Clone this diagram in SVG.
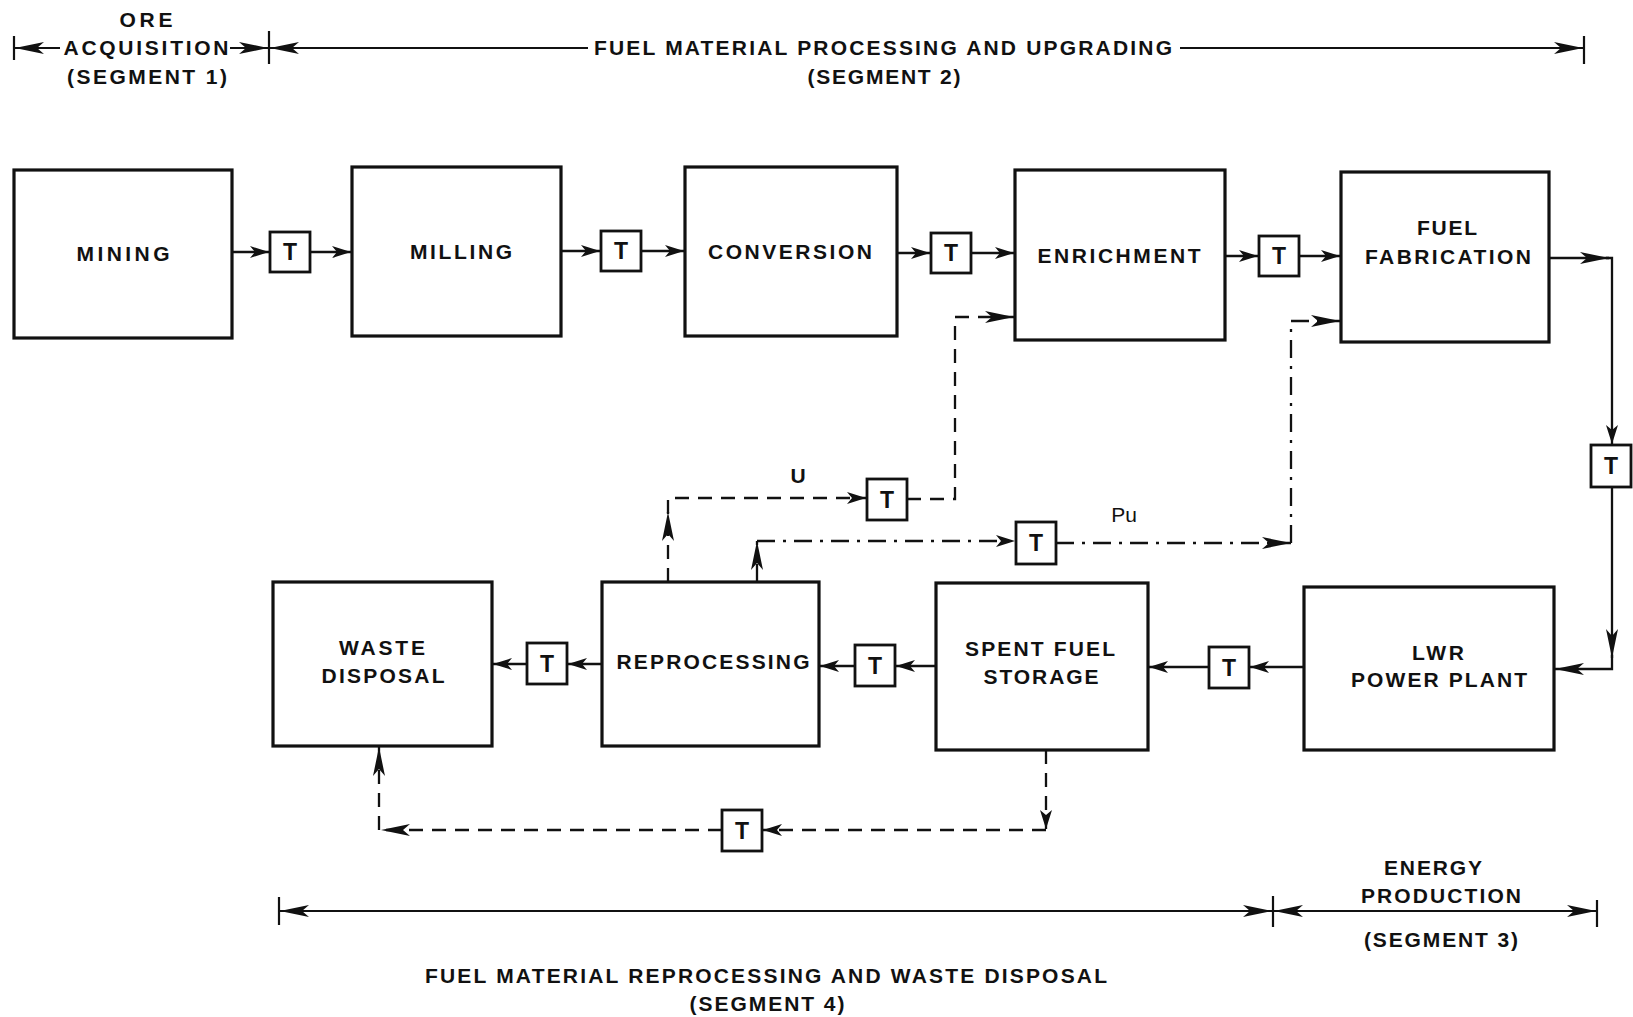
<svg xmlns="http://www.w3.org/2000/svg" width="1633" height="1017" viewBox="0 0 1633 1017">
<defs>
<style>
.box{fill:#fff;stroke:#111;stroke-width:3.2}
.tb{fill:#fff;stroke:#111;stroke-width:2.8}
.lbl{font-family:"Liberation Sans",Arial,sans-serif;font-weight:bold;font-size:21px;fill:#111;text-anchor:middle}
.tt{font-family:"Liberation Sans",Arial,sans-serif;font-weight:bold;font-size:23px;fill:#111;text-anchor:middle}
.ln{fill:none;stroke:#111;stroke-width:2.3}
.dash{fill:none;stroke:#111;stroke-width:2.3;stroke-dasharray:14 9}
.dashdot{fill:none;stroke:#111;stroke-width:2.3;stroke-dasharray:18 8 3 8}
.brk{fill:none;stroke:#111;stroke-width:2.2}
</style>
<marker id="ah" markerUnits="userSpaceOnUse" markerWidth="20" markerHeight="12" viewBox="0 0 20 12" refX="19" refY="6" orient="auto-start-reverse">
<path d="M0,0 L19,6 L0,12 L5,6 z" fill="#111"/>
</marker>
<marker id="big" markerUnits="userSpaceOnUse" markerWidth="30" markerHeight="12" viewBox="0 0 30 12" refX="29" refY="6" orient="auto-start-reverse">
<path d="M0,0 L29,6 L0,12 L7,6 z" fill="#111"/>
</marker>
</defs>
<rect width="1633" height="1017" fill="#fff"/>

<g id="header">
<text class="lbl" x="146" y="27" textLength="53" lengthAdjust="spacing">ORE</text>
<text class="lbl" x="146" y="55" textLength="165" lengthAdjust="spacing">ACQUISITION</text>
<text class="lbl" x="147" y="84" textLength="160" lengthAdjust="spacing">(SEGMENT 1)</text>
<text class="lbl" x="883" y="55" textLength="578" lengthAdjust="spacing">FUEL MATERIAL PROCESSING AND UPGRADING</text>
<text class="lbl" x="884" y="84" textLength="153" lengthAdjust="spacing">(SEGMENT 2)</text>
<path class="brk" d="M14 36 V60 M269 31 V64 M1584 36 V64"/>
<path class="brk" d="M15 48 H60" marker-start="url(#big)"/>
<path class="brk" d="M230 48 H268" marker-end="url(#big)"/>
<path class="brk" d="M270 48 H588" marker-start="url(#big)"/>
<path class="brk" d="M1180 48 H1583" marker-end="url(#big)"/>
</g>

<g id="footer">
<text class="lbl" x="1433" y="875" textLength="98" lengthAdjust="spacing">ENERGY</text>
<text class="lbl" x="1441" y="903" textLength="160" lengthAdjust="spacing">PRODUCTION</text>
<text class="lbl" x="1441" y="947" textLength="154" lengthAdjust="spacing">(SEGMENT 3)</text>
<text class="lbl" x="766" y="983" textLength="682" lengthAdjust="spacing">FUEL MATERIAL REPROCESSING AND WASTE DISPOSAL</text>
<text class="lbl" x="767" y="1011" textLength="155" lengthAdjust="spacing">(SEGMENT 4)</text>
<path class="brk" d="M279 897 V925 M1273 896 V927 M1597 900 V927"/>
<path class="brk" d="M280 911 H1272" marker-start="url(#big)" marker-end="url(#big)"/>
<path class="brk" d="M1274 911 H1596" marker-start="url(#big)" marker-end="url(#big)"/>
</g>

<g id="connectors">
<path class="ln" d="M232 252 H269" marker-end="url(#ah)"/>
<path class="ln" d="M310 252 H351" marker-end="url(#ah)"/>
<path class="ln" d="M561 251 H600" marker-end="url(#ah)"/>
<path class="ln" d="M641 251 H684" marker-end="url(#ah)"/>
<path class="ln" d="M897 253 H930" marker-end="url(#ah)"/>
<path class="ln" d="M971 253 H1014" marker-end="url(#ah)"/>
<path class="ln" d="M1225 256 H1258" marker-end="url(#ah)"/>
<path class="ln" d="M1299 256 H1340" marker-end="url(#ah)"/>
<path class="ln" d="M1549 258 H1609" marker-end="url(#big)"/>
<path class="ln" d="M1606 258 H1612 V444" marker-end="url(#ah)"/>
<path class="ln" d="M1612 487 V658" marker-end="url(#big)"/>
<path class="ln" d="M1612 655 V669 H1555" marker-end="url(#big)"/>
<path class="ln" d="M1304 667 H1250" marker-end="url(#ah)"/>
<path class="ln" d="M1209 667 H1149" marker-end="url(#ah)"/>
<path class="ln" d="M936 666 H896" marker-end="url(#ah)"/>
<path class="ln" d="M855 666 H820" marker-end="url(#ah)"/>
<path class="ln" d="M602 664 H568" marker-end="url(#ah)"/>
<path class="ln" d="M527 664 H493" marker-end="url(#ah)"/>
<path class="dash" d="M668 582 V512" marker-end="url(#big)"/>
<path class="dash" d="M668 514 V498 H866" marker-end="url(#ah)"/>
<path class="dash" d="M907 499 H955 V317 H1014" marker-end="url(#big)"/>
<path class="dashdot" d="M757 582 V541" marker-end="url(#big)"/>
<path class="dashdot" d="M757 541 H1015" marker-end="url(#ah)"/>
<path class="dashdot" d="M1056 543 H1291" marker-end="url(#big)"/>
<path class="dashdot" d="M1291 543 V321 H1340" marker-end="url(#big)"/>
<path class="dash" d="M1046 750 V829" marker-end="url(#ah)"/>
<path class="dash" d="M1046 830 H763" marker-end="url(#ah)"/>
<path class="dash" d="M722 830 H381" marker-end="url(#big)"/>
<path class="dash" d="M379 830 V747" marker-end="url(#big)"/>
<text class="lbl" x="798" y="483">U</text>
<text class="lbl" x="1124" y="522" style="font-weight:normal">Pu</text>
</g>

<g id="mining"><rect class="box" x="14" y="170" width="218" height="168"/><text class="lbl" x="123" y="261" textLength="93" lengthAdjust="spacing">MINING</text></g>
<g id="milling"><rect class="box" x="352" y="167" width="209" height="169"/><text class="lbl" x="461" y="259" textLength="102" lengthAdjust="spacing">MILLING</text></g>
<g id="conversion"><rect class="box" x="685" y="167" width="212" height="169"/><text class="lbl" x="790" y="259" textLength="164" lengthAdjust="spacing">CONVERSION</text></g>
<g id="enrichment"><rect class="box" x="1015" y="170" width="210" height="170"/><text class="lbl" x="1119" y="263" textLength="163" lengthAdjust="spacing">ENRICHMENT</text></g>
<g id="fuel-fabrication"><rect class="box" x="1341" y="172" width="208" height="170"/><text class="lbl" x="1447" y="235" textLength="60" lengthAdjust="spacing">FUEL</text><text class="lbl" x="1448" y="264" textLength="166" lengthAdjust="spacing">FABRICATION</text></g>
<g id="waste-disposal"><rect class="box" x="273" y="582" width="219" height="164"/><text class="lbl" x="382" y="655" textLength="86" lengthAdjust="spacing">WASTE</text><text class="lbl" x="383" y="683" textLength="123" lengthAdjust="spacing">DISPOSAL</text></g>
<g id="reprocessing"><rect class="box" x="602" y="582" width="217" height="164"/><text class="lbl" x="713" y="669" textLength="193" lengthAdjust="spacing">REPROCESSING</text></g>
<g id="spent-fuel-storage"><rect class="box" x="936" y="583" width="212" height="167"/><text class="lbl" x="1040" y="656" textLength="150" lengthAdjust="spacing">SPENT FUEL</text><text class="lbl" x="1041" y="684" textLength="115" lengthAdjust="spacing">STORAGE</text></g>
<g id="lwr-power-plant"><rect class="box" x="1304" y="587" width="250" height="163"/><text class="lbl" x="1438" y="660" textLength="52" lengthAdjust="spacing">LWR</text><text class="lbl" x="1439" y="687" textLength="176" lengthAdjust="spacing">POWER PLANT</text></g>

<g id="t1"><rect class="tb" x="270" y="232" width="40" height="40"/><text class="tt" x="290" y="260">T</text></g>
<g id="t2"><rect class="tb" x="601" y="231" width="40" height="40"/><text class="tt" x="621" y="259">T</text></g>
<g id="t3"><rect class="tb" x="931" y="233" width="40" height="40"/><text class="tt" x="951" y="261">T</text></g>
<g id="t4"><rect class="tb" x="1259" y="236" width="40" height="40"/><text class="tt" x="1279" y="264">T</text></g>
<g id="t5"><rect class="tb" x="1591" y="445" width="40" height="42"/><text class="tt" x="1611" y="474">T</text></g>
<g id="t6"><rect class="tb" x="1209" y="647" width="40" height="41"/><text class="tt" x="1229" y="676">T</text></g>
<g id="t7"><rect class="tb" x="855" y="645" width="40" height="41"/><text class="tt" x="875" y="674">T</text></g>
<g id="t8"><rect class="tb" x="527" y="643" width="40" height="41"/><text class="tt" x="547" y="672">T</text></g>
<g id="t-u"><rect class="tb" x="867" y="479" width="40" height="41"/><text class="tt" x="887" y="508">T</text></g>
<g id="t-pu"><rect class="tb" x="1016" y="522" width="40" height="42"/><text class="tt" x="1036" y="551">T</text></g>
<g id="t-waste"><rect class="tb" x="722" y="810" width="40" height="41"/><text class="tt" x="742" y="839">T</text></g>
</svg>
